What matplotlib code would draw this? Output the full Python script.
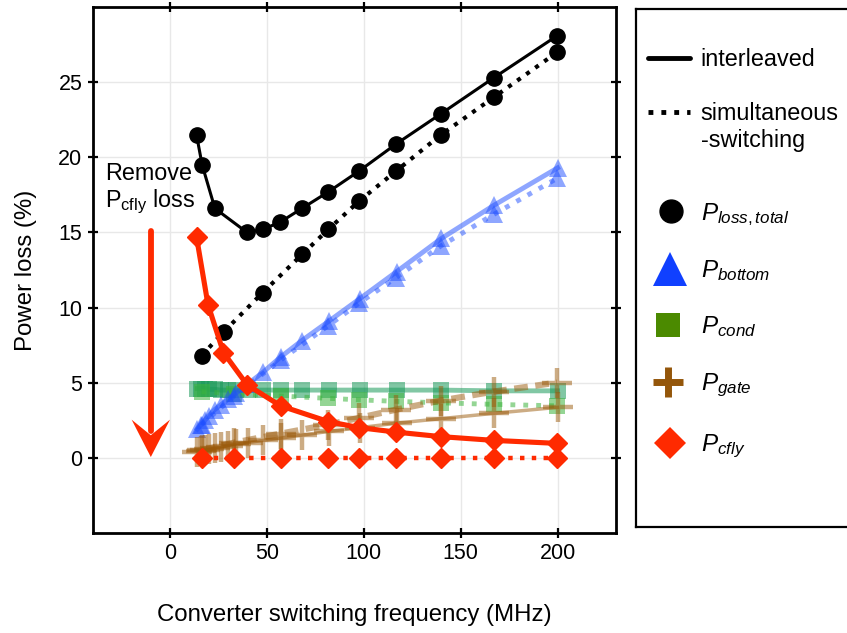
import matplotlib
matplotlib.use("Agg")
import matplotlib.pyplot as plt
from matplotlib.patches import Polygon

plt.rcParams['font.family'] = ['Liberation Sans', 'DejaVu Sans']
plt.rcParams['mathtext.fontset'] = 'custom'
plt.rcParams['mathtext.rm'] = 'Liberation Sans'
plt.rcParams['mathtext.it'] = 'Liberation Sans:italic'

""" data read off the figure """

# total loss
f_tot_il = [13.6, 16.5, 23.1, 39.7, 47.8, 56.9, 68.0, 81.6, 97.6, 116.7, 139.7, 167.0, 199.7]
p_tot_il = [21.5, 19.5, 16.6, 15.0, 15.2, 15.7, 16.6, 17.7, 19.1, 20.9, 22.9, 25.3, 28.1]
f_tot_ss = [16.2, 27.8, 47.8, 68.2, 81.6, 97.6, 116.7, 139.7, 167.0, 199.7]
p_tot_ss = [6.8, 8.4, 11.0, 13.55, 15.2, 17.1, 19.1, 21.5, 24.0, 27.0]

# components, interleaved
f_il = [14, 16, 18, 20, 23, 26, 30, 34, 40, 48, 57, 68, 82, 98, 117, 140, 167, 200]
p_bottom_il = [1.9, 2.2, 2.5, 2.8, 3.2, 3.5, 3.9, 4.3, 4.9, 5.7, 6.7, 7.8, 9.1, 10.6, 12.4, 14.6, 16.8, 19.3]
p_cond_il = [4.6, 4.6, 4.6, 4.55, 4.55, 4.5, 4.5, 4.5, 4.5, 4.5, 4.5, 4.5, 4.5, 4.5, 4.5, 4.5, 4.45, 4.45]
p_gate_il = [0.4, 0.45, 0.5, 0.55, 0.65, 0.7, 0.8, 0.9, 1.0, 1.15, 1.3, 1.5, 1.75, 2.0, 2.3, 2.6, 2.95, 3.35]

# components, simultaneous-switching
f_ss = [16.2, 33.0, 57.0, 81.7, 97.6, 116.7, 139.7, 167.0, 199.7]
p_bottom_ss = [2.2, 4.1, 6.5, 8.8, 10.3, 12.0, 14.1, 16.2, 18.6]
p_cond_ss = [4.4, 4.25, 4.1, 3.95, 3.85, 3.75, 3.65, 3.55, 3.45]
p_gate_ss = [0.5, 1.0, 1.6, 2.2, 2.65, 3.2, 3.8, 4.4, 5.0]
p_cfly_ss = [0, 0, 0, 0, 0, 0, 0, 0, 0]

# flying cap loss, interleaved
f_cfly_il = [13.6, 19.5, 27.5, 39.7, 57.0, 81.7, 97.6, 116.7, 139.7, 167.0, 199.7]
p_cfly_il = [14.7, 10.2, 7.0, 4.85, 3.45, 2.4, 2.0, 1.7, 1.4, 1.15, 0.95]

blue = '#1f4fff'
green_il = '#1a9a5a'
green_ss = '#3cb43c'
brown = '#9b5a0a'
red = '#ff2a00'

fig = plt.figure(figsize=(8.47, 6.33), dpi=100)
ax = fig.add_axes([92.7 / 847, 1 - 532.7 / 633, (615.7 - 92.7) / 847, (532.7 - 7.3) / 633])

""" components """
ax.plot(f_il, p_cond_il, '-s', color=green_il, alpha=0.55, lw=3.5, ms=12, mew=0)
ax.plot(f_ss, p_cond_ss, ':s', color=green_ss, alpha=0.55, lw=3.5, ms=12, mew=0)
ax.plot(f_il, p_bottom_il, '-^', color=blue, alpha=0.5, lw=3.5, ms=13.5, mew=0)
ax.plot(f_ss, p_bottom_ss, ':^', color=blue, alpha=0.5, lw=3.5, ms=13.5, mew=0)
ax.plot(f_il, p_gate_il, '-+', color=brown, alpha=0.5, lw=2.5, ms=21, mew=3.2)
ax.plot(f_ss, p_gate_ss, '+', color=brown, alpha=0.5, lw=4.5, ms=21, mew=3.2,
        linestyle=(0, (2.2, 1.2)))

""" totals and cfly """
ax.plot(f_tot_il, p_tot_il, '-o', color='k', lw=2.2, ms=11)
ax.plot(f_tot_ss, p_tot_ss, ':o', color='k', lw=3, ms=11)
ax.plot(f_ss, p_cfly_ss, ':D', color=red, lw=3.2, ms=10)
ax.plot(f_cfly_il, p_cfly_il, '-D', color=red, lw=3.7, ms=10)

""" remove cfly arrow """
ax.plot([-10, -10], [15.1, 1.8], color=red, lw=4.2, solid_capstyle='round')
ax.add_patch(Polygon([[-10, 0.04], [-19.9, 2.53], [-10, 1.49], [-0.1, 2.53]],
                     closed=True, color=red, lw=0))
ax.text(-33.8, 18.5, "Remove", fontsize=16.8, va='baseline')
ax.text(-33.8, 16.67, r"P$_{\mathrm{cfly}}$ loss", fontsize=16.8, va='baseline')

ax.set_xlim(-40, 230)
ax.set_ylim(-5, 30)
ax.set_xticks([0, 50, 100, 150, 200])
ax.set_yticks([0, 5, 10, 15, 20, 25])
ax.grid(True, color='#e8e8e8', lw=1)
ax.set_axisbelow(True)
ax.tick_params(direction='inout', length=7, width=1.6, labelsize=15.5,
               top=True, right=True, pad=4)
for s in ax.spines.values():
    s.set_linewidth(2)
ax.set_xlabel("Converter switching frequency (MHz)", fontsize=17.3, labelpad=29)
ax.set_ylabel("Power loss (%)", fontsize=17.3, labelpad=15)

""" legend box """
lax = fig.add_axes([635.7 / 847, 1 - 527.4 / 633, (900 - 635.7) / 847, (527.4 - 8.5) / 633])
lax.set_xlim(635.7, 900)
lax.set_ylim(527.4, 8.5)
lax.set_xticks([])
lax.set_yticks([])
for s in lax.spines.values():
    s.set_linewidth(1.6)

lax.plot([648, 690], [57.5, 57.5], color='k', lw=3.5, solid_capstyle='round')
lax.text(700.7, 57.5 + 8, "interleaved", fontsize=16.8, va='baseline')
lax.plot([648, 690], [111.6, 111.6], color='k', lw=3.5, linestyle=':')
lax.text(700.7, 111.6 + 8, "simultaneous", fontsize=16.8, va='baseline')
lax.text(700.7, 147, "-switching", fontsize=16.8, va='baseline')

leg_y = [211.3, 268.8, 324.5, 382, 442.9]
leg_lbl = [r"$P_{loss,total}$", r"$P_{bottom}$", r"$P_{cond}$", r"$P_{gate}$", r"$P_{cfly}$"]
lax.plot(670.7, leg_y[0], 'o', color='k', ms=16.5)
lax.plot(670, leg_y[1], '^', color='#1040ff', ms=25, mew=0)
lax.plot(667.7, leg_y[2], 's', color='#4b8a00', ms=17, mew=0)
lax.plot(667.7, leg_y[3], '+', color='#94560a', ms=21, mew=5)
lax.plot(670, leg_y[4], 'D', color=red, ms=16, mew=0)
for y, lbl in zip(leg_y, leg_lbl):
    lax.text(700.7, y + 8.5, lbl, fontsize=17.5, va='baseline')

fig.savefig("out.png", dpi=100)
